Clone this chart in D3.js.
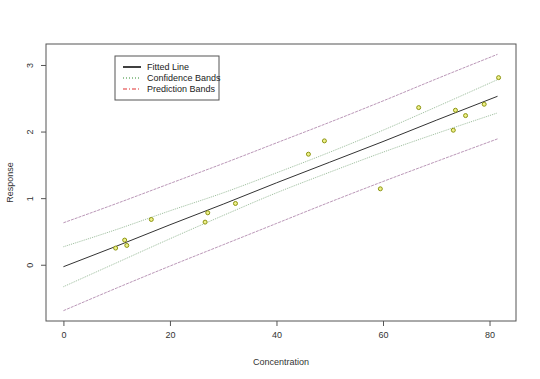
<!DOCTYPE html>
<html>
<head>
<meta charset="utf-8">
<script src="https://cdn.jsdelivr.net/npm/d3@7"></script>
<style>
  body { margin: 0; background: #fff; }
  svg { font-family: "Liberation Sans", Arial, sans-serif; }
</style>
</head>
<body>
<div id="chart"></div>
<script>
// observed points
var concentration = [9.8, 11.5, 11.9, 16.5, 26.6, 27.1, 32.3, 46.0, 49.0, 59.5, 66.7, 73.2, 73.6, 75.5, 79.0, 81.7];
var response      = [0.25, 0.37, 0.29, 0.68, 0.64, 0.78, 0.92, 1.66, 1.86, 1.14, 2.36, 2.02, 2.32, 2.24, 2.41, 2.81];

// fitted line and bands, read at these concentrations
var bandX      = [0, 10, 20, 30, 40, 50, 60, 70, 81.5];
var fitted     = [-0.03, 0.28, 0.60, 0.91, 1.23, 1.54, 1.85, 2.17, 2.53];
var confUpper  = [0.27, 0.53, 0.81, 1.08, 1.38, 1.69, 2.02, 2.37, 2.78];
var confLower  = [-0.33, 0.03, 0.39, 0.74, 1.08, 1.39, 1.69, 1.97, 2.28];
var predUpper  = [0.63, 0.92, 1.22, 1.52, 1.83, 2.14, 2.46, 2.79, 3.16];
var predLower  = [-0.69, -0.35, -0.02, 0.30, 0.62, 0.94, 1.25, 1.55, 1.89];

var xTicks = [0, 20, 40, 60, 80];
var yTicks = [0, 1, 2, 3];

// set the dimensions and margins of the graph
var margin = {top: 44, right: 24, bottom: 58, left: 46},
    width = 540 - margin.left - margin.right,
    height = 379 - margin.top - margin.bottom;

var svg = d3.select("#chart")
  .append("svg")
    .attr("width", 540)
    .attr("height", 379)
  .append("g")
    .attr("transform", "translate(" + margin.left + "," + margin.top + ")");

// R style: 4% padding on each side
var x = d3.scaleLinear().domain([-3.27, 84.97]).range([0, width]);
var y = d3.scaleLinear().domain([-0.845, 3.315]).range([height, 0]);

// X axis
var xAxis = svg.append("g")
  .attr("transform", "translate(0," + height + ")")
  .call(d3.axisBottom(x).tickValues(xTicks).tickSizeInner(5).tickSizeOuter(0).tickPadding(6));
xAxis.select(".domain").remove();
xAxis.selectAll("line").attr("stroke", "#555");
xAxis.selectAll("text").attr("font-size", 9).attr("fill", "#333").attr("font-family", null);

// Y axis, labels parallel to the axis
var yAxis = svg.append("g")
  .call(d3.axisLeft(y).tickValues(yTicks).tickFormat(d3.format("d")).tickSizeInner(5).tickSizeOuter(0));
yAxis.select(".domain").remove();
yAxis.selectAll("line").attr("stroke", "#555");
yAxis.selectAll("text")
  .attr("font-size", 9).attr("fill", "#333").attr("font-family", null)
  .attr("x", null).attr("dy", null)
  .attr("text-anchor", "middle")
  .attr("transform", "translate(-13,0) rotate(-90)");

// box
svg.append("rect")
  .attr("width", width)
  .attr("height", height)
  .attr("fill", "none")
  .attr("stroke", "#555")
  .attr("stroke-width", 1);

svg.append("text")
  .attr("x", width / 2)
  .attr("y", height + 44)
  .attr("text-anchor", "middle")
  .attr("font-size", 9)
  .attr("fill", "#333")
  .text("Concentration");

svg.append("text")
  .attr("transform", "rotate(-90)")
  .attr("x", -height / 2)
  .attr("y", -33)
  .attr("text-anchor", "middle")
  .attr("font-size", 9)
  .attr("fill", "#333")
  .text("Response");

// lines
function drawLine(vals, color, dash, w) {
  svg.append("path")
    .datum(bandX.map(function(d, i) { return [d, vals[i]]; }))
    .attr("fill", "none")
    .attr("stroke", color)
    .attr("stroke-width", w)
    .attr("stroke-dasharray", dash)
    .attr("d", d3.line()
      .curve(d3.curveMonotoneX)
      .x(function(d) { return x(d[0]); })
      .y(function(d) { return y(d[1]); }));
}

drawLine(predUpper, "#9c6a98", "3,1", 0.7);
drawLine(predLower, "#9c6a98", "3,1", 0.7);
drawLine(confUpper, "#6f9e6f", "1,1", 0.7);
drawLine(confLower, "#6f9e6f", "1,1", 0.7);
drawLine(fitted, "#333", null, 1);

// points
svg.selectAll("circle.pt")
  .data(concentration)
  .enter().append("circle")
    .attr("class", "pt")
    .attr("cx", function(d) { return x(d); })
    .attr("cy", function(d, i) { return y(response[i]); })
    .attr("r", 2)
    .attr("fill", "#eef08a")
    .attr("stroke", "#8c9410")
    .attr("stroke-width", 1);

// legend
var legendItems = [
  {label: "Fitted Line", color: "#000", dash: null, w: 1.5},
  {label: "Confidence Bands", color: "#2e8b2e", dash: "1,2", w: 1.2},
  {label: "Prediction Bands", color: "#e03030", dash: "4,2,1,2", w: 1.2}
];
var legend = svg.append("g").attr("transform", "translate(69,12)");
legend.append("rect")
  .attr("width", 104)
  .attr("height", 44)
  .attr("fill", "#fff")
  .attr("stroke", "#555");
legendItems.forEach(function(d, i) {
  var ly = 11 + i * 11;
  legend.append("line")
    .attr("x1", 8).attr("x2", 26)
    .attr("y1", ly).attr("y2", ly)
    .attr("stroke", d.color)
    .attr("stroke-width", d.w)
    .attr("stroke-dasharray", d.dash);
  legend.append("text")
    .attr("x", 32).attr("y", ly + 3)
    .attr("font-size", 9)
    .attr("fill", "#222")
    .text(d.label);
});
</script>
</body>
</html>
